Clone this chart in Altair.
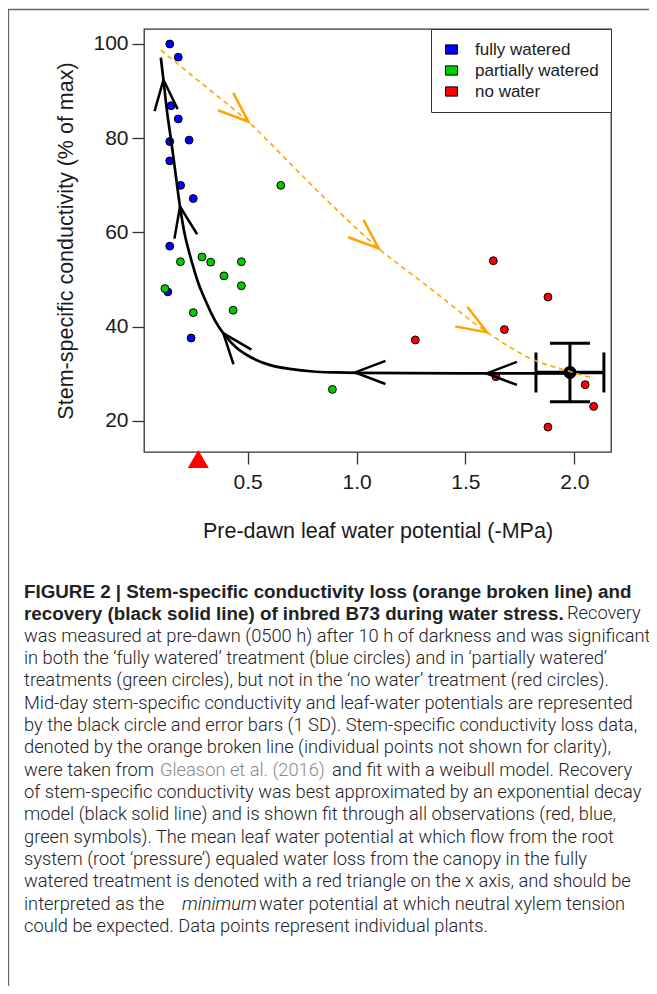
import altair as alt
import pandas as pd

# ---------------- data ----------------
treatments = ["fully watered", "partially watered", "no water"]
point_colors = ["#0000FF", "#00CC00", "#FF0000"]
legend_colors = ["#0000FF", "#66CC00", "#FF0000"]

fw_x = [0.142, 0.181, 0.148, 0.181, 0.142, 0.231, 0.142, 0.192, 0.250, 0.142, 0.133, 0.240]
fw_y = [100.0, 97.2, 86.9, 84.1, 79.3, 79.6, 75.2, 70.0, 67.2, 57.1, 47.4, 37.6]
pw_x = [0.120, 0.191, 0.290, 0.330, 0.391, 0.471, 0.471, 0.433, 0.250, 0.889, 0.652]
pw_y = [48.1, 53.8, 54.8, 53.7, 50.8, 53.8, 48.7, 43.5, 43.0, 26.7, 70.0]
nw_x = [1.628, 1.879, 1.679, 1.270, 1.640, 2.050, 2.089, 1.879]
nw_y = [54.0, 46.3, 39.4, 37.2, 29.4, 27.7, 23.1, 18.7]

# mid-day mean and 1 SD
mid_x, mid_y = [1.980], [30.3]
sd_x, sd_y = [0.156], [6.2]

# recovery (exponential decay fit)
rec_x = [0.101, 0.113, 0.130, 0.150, 0.170, 0.189, 0.210, 0.230, 0.250, 0.275, 0.300,
         0.350, 0.388, 0.400, 0.450, 0.500, 0.600, 0.700, 0.800, 0.900, 1.000, 1.500, 2.000]
rec_y = [97.1, 92.4, 85.5, 79.0, 72.0, 65.5, 59.8, 56.0, 52.7, 49.0, 46.2,
         41.3, 38.6, 37.9, 35.5, 33.9, 31.9, 31.0, 30.5, 30.3, 30.2, 30.1, 30.1]

# conductivity loss (weibull fit)
loss_x = [0.101, 0.300, 0.503, 0.700, 0.878, 1.102, 1.337, 1.600, 1.812, 1.972, 2.092]
loss_y = [98.7, 91.2, 83.5, 74.4, 66.2, 56.6, 48.2, 38.8, 33.0, 30.6, 29.0]

# arrow heads (tip position and travel direction on screen, degrees)
rec_arrow_x = [0.113, 0.189, 0.388, 0.993, 1.597]
rec_arrow_y = [92.4, 65.5, 38.6, 30.3, 30.1]
rec_arrow_dir = [265, 259, 231, 180, 180]
loss_arrow_x = [0.503, 1.102, 1.600]
loss_arrow_y = [83.5, 56.6, 38.8]
loss_arrow_dir = [41.5, 41, 31.5]

# mean leaf water potential where root pressure equals canopy loss
triangle_x = [0.273]

x_ticks = [0.5, 1.0, 1.5, 2.0]
y_ticks = [20, 40, 60, 80, 100]

caption_rows = [
    [("FIGURE 2 | Stem-specific conductivity loss (orange broken line) and", "bold")],
    [("recovery (black solid line) of inbred B73 during water stress.", "bold"), ("Recovery", "regular")],
    [("was measured at pre-dawn (0500 h) after 10 h of darkness and was significant", "regular")],
    [("in both the \u2018fully watered\u2019 treatment (blue circles) and in \u2018partially watered\u2019", "regular")],
    [("treatments (green circles), but not in the \u2018no water\u2019 treatment (red circles).", "regular")],
    [("Mid-day stem-specific conductivity and leaf-water potentials are represented", "regular")],
    [("by the black circle and error bars (1 SD). Stem-specific conductivity loss data,", "regular")],
    [("denoted by the orange broken line (individual points not shown for clarity),", "regular")],
    [("were taken from", "regular"), ("Gleason et al. (2016)", "link"), ("and fit with a weibull model. Recovery", "regular")],
    [("of stem-specific conductivity was best approximated by an exponential decay", "regular")],
    [("model (black solid line) and is shown fit through all observations (red, blue,", "regular")],
    [("green symbols). The mean leaf water potential at which flow from the root", "regular")],
    [("system (root \u2018pressure\u2019) equaled water loss from the canopy in the fully", "regular")],
    [("watered treatment is denoted with a red triangle on the x axis, and should be", "regular")],
    [("interpreted as the", "regular"), ("minimum", "italic"), ("water potential at which neutral xylem tension", "regular")],
    [("could be expected. Data points represent individual plants.", "regular")],
]
# horizontal start (px, page) of the later pieces of mixed-style rows
segment_starts = {(1, 1): 567, (8, 1): 160, (8, 2): 332, (14, 1): 182, (14, 2): 259}

# ---------------- layout ----------------
PLOT_LEFT, PLOT_TOP = 144, 29
W, H = 467, 423
FONT = "Liberation Sans"
CAP_FONT = "Roboto"

xscale = alt.Scale(domain=[0.0237, 2.1686], nice=False, zero=False)
yscale = alt.Scale(domain=[13.42, 103.18], nice=False, zero=False)

common_axis = dict(grid=False, domain=False, tickSize=12, tickColor="#333", tickWidth=1.3,
                   labelFont=FONT, labelFontSize=21, labelColor="#1a1a1a",
                   titleFont=FONT, titleFontSize=21.5, titleFontWeight="normal",
                   titleColor="#1a1a1a", labelFlush=False, labelOverlap=False)
xaxis = alt.Axis(values=x_ticks, format=".1f", title="Pre-dawn leaf water potential (-MPa)",
                 labelPadding=7, titlePadding=28, **common_axis)
yaxis = alt.Axis(values=y_ticks, format="d", title="Stem-specific conductivity (% of max)",
                 labelPadding=4, titlePadding=15, **common_axis)


def X(f):
    return alt.X(f, type="quantitative", scale=xscale, axis=xaxis)


def Y(f):
    return alt.Y(f, type="quantitative", scale=yscale, axis=yaxis)


pts = pd.DataFrame({
    "x": fw_x + pw_x + nw_x,
    "y": fw_y + pw_y + nw_y,
    "treatment": [treatments[0]] * len(fw_x) + [treatments[1]] * len(pw_x) + [treatments[2]] * len(nw_x),
})
rec = pd.DataFrame({"x": rec_x, "y": rec_y})
loss = pd.DataFrame({"x": loss_x, "y": loss_y})
mid = pd.DataFrame({"x": mid_x, "y": mid_y, "sx": sd_x, "sy": sd_y})
rec_arrows = pd.DataFrame({"x": rec_arrow_x, "y": rec_arrow_y, "a": rec_arrow_dir})
loss_arrows = pd.DataFrame({"x": loss_arrow_x, "y": loss_arrow_y, "a": loss_arrow_dir})
tri = pd.DataFrame({"x": triangle_x})

legend_fill = " : ".join(
    f"datum.value === '{t}' ? '{c}'" for t, c in zip(treatments[:-1], legend_colors[:-1])
) + f" : '{legend_colors[-1]}'"

point_layer = alt.Chart(pts).mark_circle(size=62, stroke="black", strokeWidth=1, opacity=1).encode(
    x=X("x"), y=Y("y"),
    color=alt.Color(
        "treatment:N", scale=alt.Scale(domain=treatments, range=point_colors),
        legend=alt.Legend(title=None, orient="top-right", offset=0, padding=12,
                          strokeColor="#333", fillColor="white",
                          symbolType="M-1,-0.77H1V0.77H-1Z", symbolSize=144,
                          symbolStrokeColor="black", symbolStrokeWidth=1, symbolOpacity=1,
                          symbolFillColor=alt.ExprRef(legend_fill),
                          labelFont=FONT, labelFontSize=17, labelColor="#1a1a1a",
                          labelOffset=15, rowPadding=3)),
)

rec_layer = alt.Chart(rec).mark_line(color="black", strokeWidth=2.7, interpolate="monotone").encode(
    x=X("x"), y=Y("y"), order="x:Q")

mid_h = alt.Chart(mid).transform_calculate(lo="datum.x - datum.sx", hi="datum.x + datum.sx").mark_rule(
    color="black", strokeWidth=3.5).encode(x=X("lo:Q"), x2="hi:Q", y=Y("y"))
mid_v = alt.Chart(mid).transform_calculate(lo="datum.y - datum.sy", hi="datum.y + datum.sy").mark_rule(
    color="black", strokeWidth=3).encode(x=X("x"), y=Y("lo:Q"), y2="hi:Q")
cap_v = alt.Chart(mid).transform_calculate(
    a="datum.y - datum.sy", b="datum.y + datum.sy").transform_fold(["a", "b"], as_=["k", "cy"]).mark_tick(
    orient="horizontal", size=40, thickness=3, color="black", opacity=1).encode(x=X("x"), y=Y("cy:Q"))
cap_h = alt.Chart(mid).transform_calculate(
    a="datum.x - datum.sx", b="datum.x + datum.sx").transform_fold(["a", "b"], as_=["k", "cx"]).mark_tick(
    orient="vertical", size=40, thickness=3, color="black", opacity=1).encode(x=X("cx:Q"), y=Y("y"))
mid_pt = alt.Chart(mid).mark_circle(size=170, color="black", opacity=1).encode(x=X("x"), y=Y("y"))

loss_layer = alt.Chart(loss).mark_line(color="#FFA500", strokeWidth=1.6, strokeDash=[5, 4],
                                       interpolate="monotone").encode(x=X("x"), y=Y("y"), order="x:Q")

CHEVRON = "M-1,-0.38L0,0L-1,0.38"
rec_arrow_layer = alt.Chart(rec_arrows).mark_point(shape=CHEVRON, size=3700, filled=False, color="black",
                                                   strokeWidth=2.5, opacity=1).encode(
    x=X("x"), y=Y("y"), angle=alt.Angle("a:Q", scale=None))
loss_arrow_layer = alt.Chart(loss_arrows).mark_point(shape=CHEVRON, size=3700, filled=False, color="#FFA500",
                                                     strokeWidth=2.5, opacity=1).encode(
    x=X("x"), y=Y("y"), angle=alt.Angle("a:Q", scale=None))

tri_layer = alt.Chart(tri).mark_point(shape="triangle-up", size=441, filled=True, color="#FF0000",
                                      opacity=1).encode(x=X("x"), y=alt.value(430))

one = alt.Data(values=[{"k": 1}])
frame_left = alt.Chart(one).mark_rule(color="#666", strokeWidth=1.3).encode(
    x=alt.value(8.5 - PLOT_LEFT), y=alt.value(9 - PLOT_TOP), y2=alt.value(994 - PLOT_TOP))
frame_top = alt.Chart(one).mark_rule(color="#666", strokeWidth=1.3).encode(
    x=alt.value(8 - PLOT_LEFT), x2=alt.value(657 - PLOT_LEFT), y=alt.value(9.5 - PLOT_TOP))

styles = {
    "regular": dict(font=CAP_FONT, fontSize=18.3, fontWeight=300, fontStyle="normal", color="#222222"),
    "bold": dict(font=FONT, fontSize=18.8, fontWeight="bold", fontStyle="normal", color="#222222"),
    "link": dict(font=CAP_FONT, fontSize=18.3, fontWeight=300, fontStyle="normal", color="#8a8a8a"),
    "italic": dict(font=CAP_FONT, fontSize=18.3, fontWeight=300, fontStyle="italic", color="#222222"),
}
caption_layers = []
for i, row in enumerate(caption_rows):
    yc = 592 + 22.33 * i
    for j, (txt, st) in enumerate(row):
        xs = segment_starts.get((i, j), 24)
        caption_layers.append(
            alt.Chart(one).mark_text(align="left", baseline="middle", **styles[st]).encode(
                x=alt.value(xs - PLOT_LEFT), y=alt.value(yc - PLOT_TOP), text=alt.value(txt))
        )

chart = alt.layer(
    frame_left, frame_top,
    point_layer, rec_layer, mid_h, mid_v, cap_v, cap_h, mid_pt, loss_layer,
    rec_arrow_layer, loss_arrow_layer, tri_layer,
    *caption_layers,
).properties(
    width=W, height=H,
    autosize=alt.AutoSizeParams(type="none"),
    padding={"left": PLOT_LEFT - 8, "top": PLOT_TOP - 8, "right": 38, "bottom": 534},
).configure_view(stroke="#333", strokeWidth=1.3)

chart.save("out.html", embed_options={"renderer": "svg", "actions": False})
